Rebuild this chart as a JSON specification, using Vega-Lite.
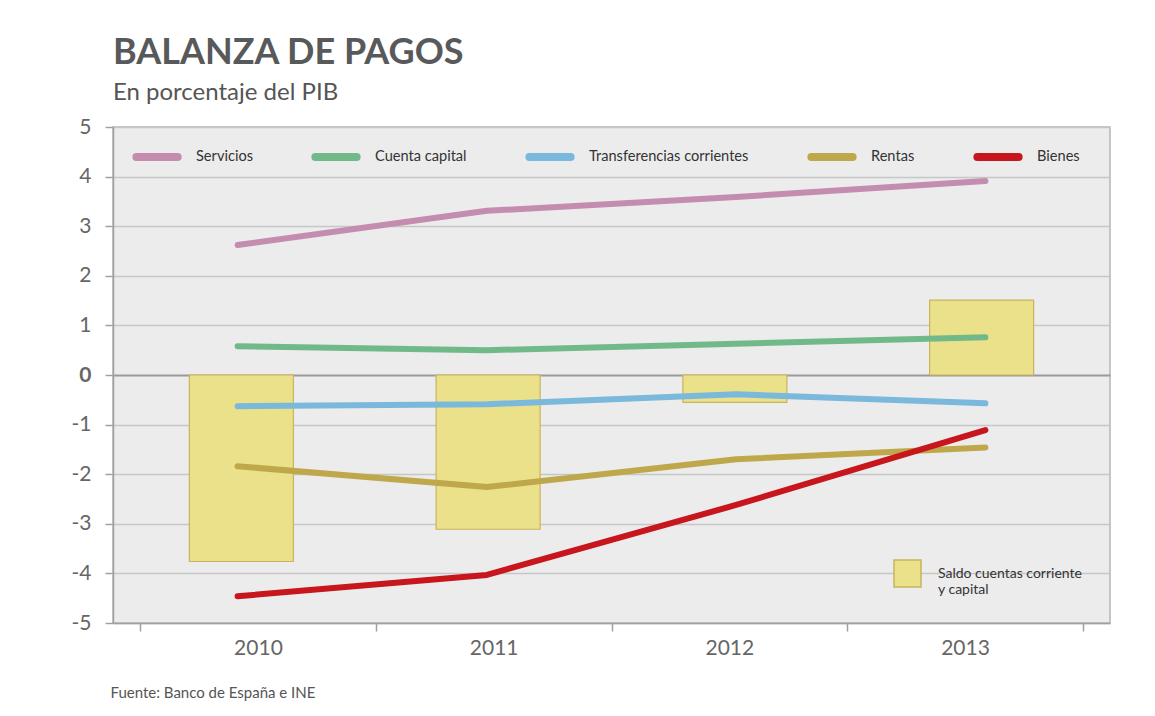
{
  "$schema": "https://vega.github.io/schema/vega-lite/v6.json",
  "autosize": {"type": "none"},
  "width": 997,
  "height": 496,
  "padding": {"left": 113, "top": 127, "right": 45, "bottom": 93},
  "background": "white",
  "title": {
    "text": "BALANZA DE PAGOS",
    "subtitle": "En porcentaje del PIB",
    "anchor": "start",
    "frame": "group",
    "font": "Lato",
    "fontSize": 36,
    "fontWeight": "bold",
    "color": "#58595b",
    "subtitleFont": "Lato",
    "subtitleFontSize": 24,
    "subtitleColor": "#555555",
    "subtitlePadding": 9,
    "offset": 10
  },
  "datasets": {
    "d": [
      {"year": 2010, "serie": "Servicios", "value": 2.62},
      {"year": 2011, "serie": "Servicios", "value": 3.31},
      {"year": 2012, "serie": "Servicios", "value": 3.59},
      {"year": 2013, "serie": "Servicios", "value": 3.91},
      {"year": 2010, "serie": "Cuenta capital", "value": 0.58},
      {"year": 2011, "serie": "Cuenta capital", "value": 0.50},
      {"year": 2012, "serie": "Cuenta capital", "value": 0.63},
      {"year": 2013, "serie": "Cuenta capital", "value": 0.76},
      {"year": 2010, "serie": "Transferencias corrientes", "value": -0.63},
      {"year": 2011, "serie": "Transferencias corrientes", "value": -0.59},
      {"year": 2012, "serie": "Transferencias corrientes", "value": -0.39},
      {"year": 2013, "serie": "Transferencias corrientes", "value": -0.57},
      {"year": 2010, "serie": "Rentas", "value": -1.84},
      {"year": 2011, "serie": "Rentas", "value": -2.26},
      {"year": 2012, "serie": "Rentas", "value": -1.70},
      {"year": 2013, "serie": "Rentas", "value": -1.46},
      {"year": 2010, "serie": "Bienes", "value": -4.46},
      {"year": 2011, "serie": "Bienes", "value": -4.03},
      {"year": 2012, "serie": "Bienes", "value": -2.62},
      {"year": 2013, "serie": "Bienes", "value": -1.11}
    ],
    "b": [
      {"year": 2010, "serie": "Saldo cuentas corriente y capital", "value": -3.76},
      {"year": 2011, "serie": "Saldo cuentas corriente y capital", "value": -3.11},
      {"year": 2012, "serie": "Saldo cuentas corriente y capital", "value": -0.55},
      {"year": 2013, "serie": "Saldo cuentas corriente y capital", "value": 1.51}
    ]
  },
  "config": {
    "view": {"fill": "#ececec", "stroke": "#b5b5b5", "strokeWidth": 1.5},
    "font": "Lato",
    "axis": {"labelFont": "Lato", "titleFont": "Lato"}
  },
  "layer": [
    {
      "data": {"name": "b"},
      "mark": {"type": "rule", "opacity": 0},
      "encoding": {
        "x": {
          "field": "year",
          "type": "nominal",
          "scale": {"paddingOuter": 0.115, "paddingInner": 0},
          "axis": {
            "tickBand": "extent",
            "labelAngle": 0,
            "labelFontSize": 21,
            "labelColor": "#666666",
            "labelPadding": 6,
            "tickSize": 8,
            "tickColor": "#a0a0a0",
            "tickWidth": 1.5,
            "domainColor": "#a0a0a0",
            "domainWidth": 1.5,
            "title": "Fuente: Banco de España e INE",
            "titleFontSize": 15,
            "titleFontWeight": "normal",
            "titleColor": "#555555",
            "titleAnchor": "start",
            "titleAlign": "left",
            "titleBaseline": "alphabetic",
            "titleX": -3,
            "titleY": 74
          }
        }
      }
    },
    {
      "data": {"name": "b"},
      "mark": {"type": "bar", "size": 104, "stroke": "#c9b45c", "strokeWidth": 1.2},
      "encoding": {
        "x": {"field": "year", "type": "quantitative", "scale": {"domain": [2009.5, 2013.5], "nice": false, "zero": false}, "axis": null},
        "y": {
          "field": "value",
          "type": "quantitative",
          "scale": {"domain": [-5, 5], "nice": false},
          "axis": {
            "title": null,
            "values": [-5, -4, -3, -2, -1, 0, 1, 2, 3, 4, 5],
            "labelExpr": "'' + datum.value",
            "labelFontSize": 21,
            "labelColor": "#666666",
            "labelFontWeight": {"condition": {"test": "datum.value == 0", "value": "bold"}, "value": "normal"},
            "labelPadding": 14,
            "tickSize": 8,
            "tickColor": "#a0a0a0",
            "tickWidth": 1.5,
            "domainColor": "#a0a0a0",
            "domainWidth": 1.5,
            "grid": true,
            "gridColor": {"condition": {"test": "datum.value == 0", "value": "#9a9a9a"}, "value": "#c6c6c6"},
            "gridWidth": {"condition": {"test": "datum.value == 0", "value": 2}, "value": 1.5}
          }
        },
        "fill": {
          "field": "serie",
          "type": "nominal",
          "scale": {"range": ["#ebe18b"]},
          "legend": {
            "title": null,
            "orient": "none",
            "legendX": 780,
            "legendY": 432,
            "symbolType": "square",
            "symbolSize": 729,
            "symbolStrokeColor": "#c9b45c",
            "symbolStrokeWidth": 1.5,
            "symbolOpacity": 1,
            "labelFontSize": 14,
            "labelColor": "#333333",
            "labelOffset": 16,
            "labelLimit": 300,
            "labelExpr": "['Saldo cuentas corriente', 'y capital']"
          }
        }
      }
    },
    {
      "data": {"name": "d"},
      "mark": {"type": "line", "strokeWidth": 6, "strokeCap": "round", "strokeJoin": "round"},
      "encoding": {
        "x": {"field": "year", "type": "quantitative", "scale": {"domain": [2009.5, 2013.5], "nice": false, "zero": false}, "axis": null},
        "y": {"field": "value", "type": "quantitative"},
        "color": {
          "field": "serie",
          "type": "nominal",
          "sort": ["Servicios", "Cuenta capital", "Transferencias corrientes", "Rentas", "Bienes"],
          "scale": {
            "domain": ["Servicios", "Cuenta capital", "Transferencias corrientes", "Rentas", "Bienes"],
            "range": ["#c48cae", "#72b98a", "#7ab8dc", "#bfa84c", "#c8161d"]
          },
          "legend": {
            "title": null,
            "orient": "none",
            "direction": "horizontal",
            "legendX": 19,
            "legendY": 5,
            "symbolType": "stroke",
            "symbolSize": 1700,
            "symbolStrokeWidth": 8,
            "labelFontSize": 14.6,
            "labelColor": "#333333",
            "labelOffset": 14,
            "columnPadding": 46,
            "labelLimit": 300,
            "encode": {"symbols": {"update": {"strokeCap": {"value": "round"}}}}
          }
        }
      }
    }
  ],
  "resolve": {"scale": {"x": "independent"}}
}
